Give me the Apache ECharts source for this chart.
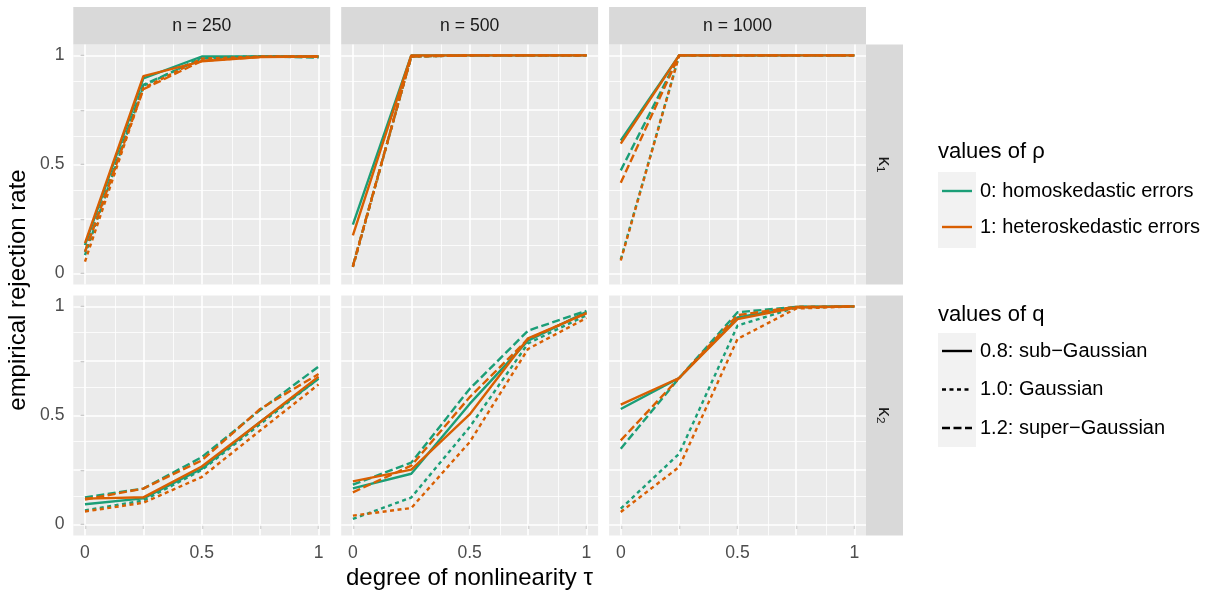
<!DOCTYPE html>
<html>
<head>
<meta charset="utf-8">
<title>rejection rates</title>
<script src="https://cdn.jsdelivr.net/npm/echarts@6/dist/echarts.min.js"></script>
<style>
html, body { margin: 0; padding: 0; background: #fff; }
#chart { width: 1211px; height: 596px; }
</style>
</head>
<body>
<div id="chart"></div>
<script>
// x values and labels
const tau = [0, 0.25, 0.5, 0.75, 1];
const breaks = [0, 0.25, 0.5, 0.75, 1];
const breakLabels = [0, 0.5, 1];
const minorBreaks = [0.125, 0.375, 0.625, 0.875];
const columnLabels = ['n = 250', 'n = 500', 'n = 1000'];
const rowLabels = ['κ₁', 'κ₂'];
const rhoLabels = ['0: homoskedastic errors', '1: heteroskedastic errors'];
const qLabels = ['0.8: sub−Gaussian', '1.0: Gaussian', '1.2: super−Gaussian'];

// kappa 1, n = 250   (rho 0 / rho 1, q = 0.8 / 1.0 / 1.2)
const k1n250r0q08 = [0.13, 0.895, 0.995, 0.995, 0.995];
const k1n250r0q10 = [0.085, 0.86, 0.99, 0.995, 0.995];
const k1n250r0q12 = [0.10, 0.865, 0.985, 0.995, 0.99];
const k1n250r1q08 = [0.14, 0.905, 0.973, 0.993, 0.995];
const k1n250r1q10 = [0.055, 0.85, 0.985, 0.995, 0.995];
const k1n250r1q12 = [0.10, 0.845, 0.975, 0.993, 0.995];
// kappa 1, n = 500
const k1n500r0q08 = [0.224, 1, 1, 1, 1];
const k1n500r0q10 = [0.03, 0.995, 1, 1, 1];
const k1n500r0q12 = [0.035, 0.995, 1, 1, 1];
const k1n500r1q08 = [0.175, 1, 1, 1, 1];
const k1n500r1q10 = [0.03, 0.995, 1, 1, 1];
const k1n500r1q12 = [0.035, 0.995, 1, 1, 1];
// kappa 1, n = 1000
const k1n1000r0q08 = [0.61, 1, 1, 1, 1];
const k1n1000r0q10 = [0.065, 1, 1, 1, 1];
const k1n1000r0q12 = [0.473, 1, 1, 1, 1];
const k1n1000r1q08 = [0.596, 1, 1, 1, 1];
const k1n1000r1q10 = [0.06, 1, 1, 1, 1];
const k1n1000r1q12 = [0.416, 1, 1, 1, 1];
// kappa 2, n = 250
const k2n250r0q08 = [0.093, 0.12, 0.256, 0.47, 0.668];
const k2n250r0q10 = [0.065, 0.11, 0.25, 0.46, 0.67];
const k2n250r0q12 = [0.125, 0.165, 0.309, 0.525, 0.724];
const k2n250r1q08 = [0.119, 0.125, 0.266, 0.47, 0.678];
const k2n250r1q10 = [0.06, 0.10, 0.218, 0.431, 0.642];
const k2n250r1q12 = [0.115, 0.165, 0.294, 0.53, 0.69];
// kappa 2, n = 500
const k2n500r0q08 = [0.166, 0.233, 0.553, 0.843, 0.975];
const k2n500r0q10 = [0.026, 0.124, 0.447, 0.83, 0.96];
const k2n500r0q12 = [0.183, 0.284, 0.622, 0.889, 0.98];
const k2n500r1q08 = [0.198, 0.252, 0.505, 0.854, 0.968];
const k2n500r1q10 = [0.041, 0.076, 0.378, 0.805, 0.947];
const k2n500r1q12 = [0.148, 0.27, 0.584, 0.85, 0.97];
// kappa 2, n = 1000
const k2n1000r0q08 = [0.53, 0.672, 0.95, 0.998, 1];
const k2n1000r0q10 = [0.073, 0.325, 0.912, 0.995, 1];
const k2n1000r0q12 = [0.348, 0.672, 0.973, 0.998, 1];
const k2n1000r1q08 = [0.55, 0.672, 0.942, 0.995, 1];
const k2n1000r1q10 = [0.058, 0.264, 0.851, 0.99, 1];
const k2n1000r1q12 = [0.386, 0.672, 0.96, 0.998, 1];

const panelData = [
  [k1n250r0q08, k1n250r0q10, k1n250r0q12, k1n250r1q08, k1n250r1q10, k1n250r1q12],
  [k1n500r0q08, k1n500r0q10, k1n500r0q12, k1n500r1q08, k1n500r1q10, k1n500r1q12],
  [k1n1000r0q08, k1n1000r0q10, k1n1000r0q12, k1n1000r1q08, k1n1000r1q10, k1n1000r1q12],
  [k2n250r0q08, k2n250r0q10, k2n250r0q12, k2n250r1q08, k2n250r1q10, k2n250r1q12],
  [k2n500r0q08, k2n500r0q10, k2n500r0q12, k2n500r1q08, k2n500r1q10, k2n500r1q12],
  [k2n1000r0q08, k2n1000r0q10, k2n1000r0q12, k2n1000r1q08, k2n1000r1q10, k2n1000r1q12]
];

const colors = ['#1B9E77', '#D95F02'];
const dashes = ['solid', [4, 3.5], [8, 3.5]];
const font = '"Liberation Sans", Arial, "DejaVu Sans", sans-serif';

// panel layout (px)
const colLeft = [73.3, 341.2, 609.1];
const panelW = 256.9;
const rowTop = [44.5, 295.5];
const panelH = 240;

let grids = [], xAxes = [], yAxes = [], series = [];
for (let r = 0; r < 2; r++) {
  for (let c = 0; c < 3; c++) {
    const i = r * 3 + c;
    grids.push({
      left: colLeft[c], top: rowTop[r], width: panelW, height: panelH,
      show: true, backgroundColor: '#EBEBEB', borderWidth: 0
    });
    const bottom = r === 1, left = c === 0;
    xAxes.push({
      type: 'value', gridIndex: i, min: -0.05, max: 1.05,
      axisLine: { show: false },
      splitLine: { show: false },
      axisTick: { show: bottom, customValues: breaks, length: 4.4, lineStyle: { color: '#333333', width: 1.1 } },
      axisLabel: { show: bottom, customValues: breakLabels, margin: 8.8, color: '#4D4D4D', fontSize: 17.6, fontFamily: font }
    });
    yAxes.push({
      type: 'value', gridIndex: i, min: -0.05, max: 1.05,
      axisLine: { show: false },
      splitLine: { show: false },
      axisTick: { show: left, customValues: breaks, length: 4.4, lineStyle: { color: '#333333', width: 1.1 } },
      axisLabel: { show: left, customValues: breakLabels, margin: 8.8, color: '#4D4D4D', fontSize: 17.6, fontFamily: font }
    });
    // white gridlines under the lines
    let gl = [];
    minorBreaks.forEach(v => {
      gl.push({ xAxis: v, lineStyle: { width: 0.8 } });
      gl.push({ yAxis: v, lineStyle: { width: 0.8 } });
    });
    breaks.forEach(v => {
      gl.push({ xAxis: v, lineStyle: { width: 1.6 } });
      gl.push({ yAxis: v, lineStyle: { width: 1.6 } });
    });
    series.push({
      type: 'line', xAxisIndex: i, yAxisIndex: i, data: [], z: 1,
      markLine: {
        silent: true, symbol: 'none', z: 1, animation: false,
        label: { show: false },
        lineStyle: { color: '#FFFFFF', type: 'solid' },
        emphasis: { disabled: true },
        data: gl
      }
    });
    panelData[i].forEach((vals, k) => {
      const rho = Math.floor(k / 3), q = k % 3;
      series.push({
        type: 'line', xAxisIndex: i, yAxisIndex: i, z: 10,
        symbol: 'none', silent: true, animation: false,
        lineStyle: { color: colors[rho], width: 2.4, type: dashes[q], cap: 'butt' },
        data: tau.map((t, j) => [t, vals[j]])
      });
    });
  }
}

// strips, axis titles and legends
let graphic = [];
columnLabels.forEach((lab, c) => {
  graphic.push({ type: 'rect', shape: { x: colLeft[c], y: 7, width: panelW, height: 37.5 }, style: { fill: '#D9D9D9' }, silent: true });
  graphic.push({ type: 'text', x: colLeft[c] + panelW / 2, y: 26,
    style: { text: lab, fill: '#1A1A1A', font: '17.6px ' + font, align: 'center', verticalAlign: 'middle' } });
});
rowLabels.forEach((lab, r) => {
  graphic.push({ type: 'rect', shape: { x: 866, y: rowTop[r], width: 37, height: panelH }, style: { fill: '#D9D9D9' }, silent: true });
  graphic.push({ type: 'text', x: 884.5, y: rowTop[r] + panelH / 2, rotation: -Math.PI / 2,
    style: { text: lab, fill: '#1A1A1A', font: '19px ' + font, align: 'center', verticalAlign: 'middle' } });
});
graphic.push({ type: 'text', x: 18, y: 290, rotation: Math.PI / 2,
  style: { text: 'empirical rejection rate', fill: '#000', font: '24px ' + font, align: 'center', verticalAlign: 'middle' } });
graphic.push({ type: 'text', x: 469.5, y: 578,
  style: { text: 'degree of nonlinearity τ', fill: '#000', font: '24px ' + font, align: 'center', verticalAlign: 'middle' } });

// legend for rho
graphic.push({ type: 'text', x: 938, y: 152, style: { text: 'values of ρ', fill: '#000', font: '22px ' + font, verticalAlign: 'middle' } });
graphic.push({ type: 'rect', shape: { x: 938, y: 172, width: 38, height: 76 }, style: { fill: '#F2F2F2' } });
rhoLabels.forEach((lab, k) => {
  const y = 191 + k * 36;
  graphic.push({ type: 'line', shape: { x1: 942, y1: y, x2: 972, y2: y }, style: { stroke: colors[k], lineWidth: 2.4 } });
  graphic.push({ type: 'text', x: 980, y: y, style: { text: lab, fill: '#000', font: '20px ' + font, verticalAlign: 'middle' } });
});
// legend for q
graphic.push({ type: 'text', x: 938, y: 315, style: { text: 'values of q', fill: '#000', font: '22px ' + font, verticalAlign: 'middle' } });
graphic.push({ type: 'rect', shape: { x: 938, y: 333, width: 38, height: 114 }, style: { fill: '#F2F2F2' } });
qLabels.forEach((lab, k) => {
  const y = 351 + k * 38.5;
  graphic.push({ type: 'line', shape: { x1: 942, y1: y, x2: 972, y2: y },
    style: { stroke: '#000', lineWidth: 2.4, lineDash: k === 0 ? null : dashes[k] } });
  graphic.push({ type: 'text', x: 980, y: y, style: { text: lab, fill: '#000', font: '20px ' + font, verticalAlign: 'middle' } });
});

const chart = echarts.init(document.getElementById('chart'));
chart.setOption({
  animation: false,
  backgroundColor: '#FFFFFF',
  grid: grids,
  xAxis: xAxes,
  yAxis: yAxes,
  series: series,
  graphic: graphic
});
</script>
</body>
</html>
